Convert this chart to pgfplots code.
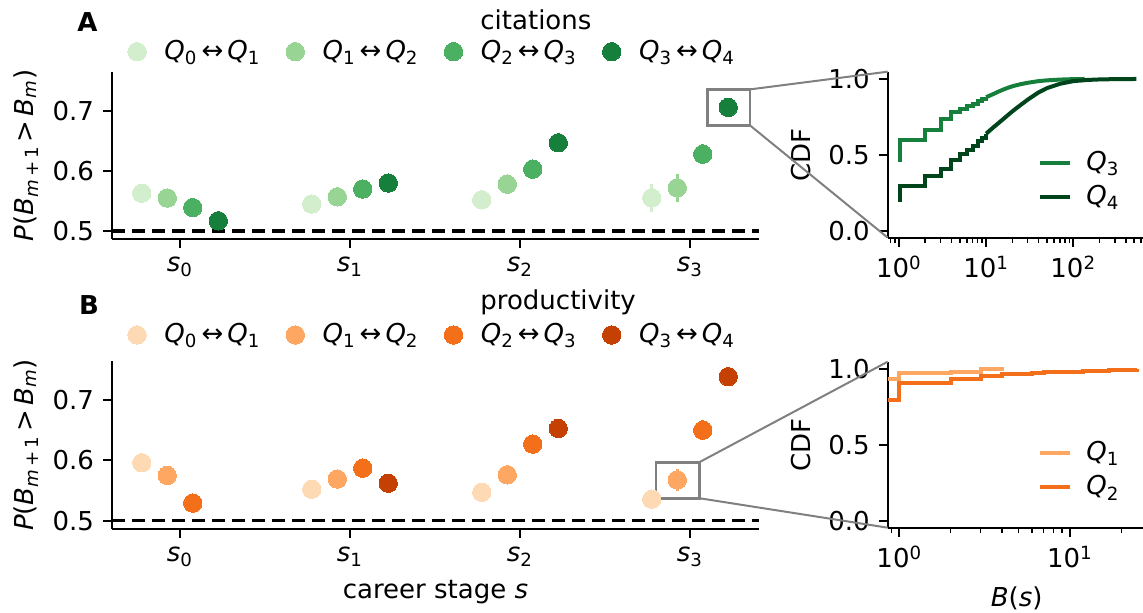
\documentclass[border=0pt]{standalone}
\usepackage{fontspec}
\setmainfont{DejaVu Sans}
\usepackage{amsmath}
\usepackage{pgfplots}
\usepackage{pgfplotstable}
\pgfplotsset{compat=1.18}

\definecolor{gA}{HTML}{D3EECD}
\definecolor{gB}{HTML}{98D594}
\definecolor{gC}{HTML}{4BB062}
\definecolor{gD}{HTML}{157F3B}
\definecolor{gE}{HTML}{00441B}
\definecolor{oA}{HTML}{FDD9B4}
\definecolor{oB}{HTML}{FDA762}
\definecolor{oC}{HTML}{F36F1A}
\definecolor{oD}{HTML}{C44103}
\definecolor{zoomgray}{HTML}{808080}

\newcommand{\mv}[1]{\textit{#1}}
\newcommand{\pair}[2]{\hspace*{5.2pt}\makebox[56.9pt][l]{$\mv{Q}_{\text{#1}}\,\text{↔}\,\mv{Q}_{\text{#2}}$}}

% citations: x y err
\pgfplotstableread{
x y e
-0.225 0.563 0.004
0.775 0.545 0.004
1.775 0.552 0.005
2.775 0.5555 0.023
}\cA
\pgfplotstableread{
x y e
-0.075 0.555 0.004
0.925 0.557 0.004
1.925 0.578 0.005
2.925 0.572 0.023
}\cB
\pgfplotstableread{
x y e
0.075 0.539 0.004
1.075 0.570 0.004
2.075 0.603 0.005
3.075 0.628 0.017
}\cC
\pgfplotstableread{
x y e
0.225 0.517 0.004
1.225 0.580 0.004
2.225 0.647 0.005
3.225 0.706 0.005
}\cD

% productivity
\pgfplotstableread{
x y e
-0.225 0.596 0.004
0.775 0.552 0.004
1.775 0.547 0.005
2.775 0.5355 0.006
}\pA
\pgfplotstableread{
x y e
-0.075 0.575 0.004
0.925 0.569 0.004
1.925 0.576 0.005
2.925 0.5675 0.018
}\pB
\pgfplotstableread{
x y e
0.075 0.529 0.004
1.075 0.587 0.004
2.075 0.627 0.005
3.075 0.650 0.017
}\pC
\pgfplotstableread{
x y e
1.225 0.562 0.004
2.225 0.653 0.005
3.225 0.739 0.005
}\pD

% CDF insets, step part and smooth part
\pgfplotstableread{
x y
0.97 0.47
1.04 0.60
2 0.665
3 0.735
4 0.78
5 0.80
6 0.82
7 0.835
8 0.852
9 0.867
10 0.88
}\qThreeS
\pgfplotstableread{
x y
10 0.88
12 0.90
14 0.918
16 0.932
18 0.943
20 0.952
25 0.966
30 0.975
40 0.986
50 0.991
70 0.996
100 0.999
135 1.0
}\qThreeL
\pgfplotstableread{
x y
0.97 0.204
1.04 0.296
2 0.36
3 0.41
4 0.467
5 0.505
6 0.533
7 0.562
8 0.59
9 0.615
10 0.64
}\qFourS
\pgfplotstableread{
x y
10 0.64
12 0.68
14 0.712
16 0.74
18 0.765
20 0.787
25 0.83
30 0.864
40 0.912
50 0.94
70 0.968
100 0.986
150 0.994
200 0.997
300 0.999
530 1.0
}\qFourL
\pgfplotstableread{
x y
0.855 0.932
1 0.972
2 0.982
3 0.997
4.1 0.997
}\qOne
\pgfplotstableread{
x y
0.855 0.796
1 0.906
2 0.932
3 0.954
4 0.965
5 0.970
6 0.974
7 0.977
8 0.979
9 0.981
10 0.983
12 0.986
14 0.988
17 0.991
20 0.994
24.6 0.998
}\qTwo

\tikzset{
  zbox/.style={zoomgray, line width=1.3pt},
  conn/.style={zoomgray, line width=1pt},
}

\pgfplotsset{
  base/.style={
    scale only axis,
    axis x line=bottom, axis y line=left,
    axis line style={-, line width=1pt},
    tick align=outside,
    major tick length=4.5pt, minor tick length=2.6pt,
    every tick/.style={black, line width=1pt},
    every minor tick/.style={black, line width=0.75pt},
    clip=false,
  },
  leftax/.style={
    base, width=323.5pt,
    xmin=-0.4, xmax=3.406, ymin=0.4867, ymax=0.765,
    xtick={0,1,2,3},
    xticklabels={$\mv{s}_{\text{0}}$,$\mv{s}_{\text{1}}$,$\mv{s}_{\text{2}}$,$\mv{s}_{\text{3}}$},
    ytick={0.5,0.6,0.7}, yticklabels={0.5,0.6,0.7},
    ylabel={$\mv{P}\text{(}\mv{B}_{\mv{m}\,\text{+}\,\text{1}}\,\text{>}\,\mv{B}_{\mv{m}}\text{)}$},
    ylabel style={at={(axis description cs:-0.133,0.5)}, anchor=center},
    legend columns=4,
    legend style={draw=none, fill=none, inner sep=0pt, anchor=west,
      column sep=0pt, nodes={inner sep=0pt}, cells={anchor=west}},
    legend image code/.code={\path[draw=none, fill=none] (0pt,0pt) -- (17pt,0pt);
      \draw[##1, only marks] plot coordinates {(8.5pt,0pt)};},
  },
  insax/.style={
    base, width=127.65pt, height=83pt,
    ymin=-0.044, ymax=1.048,
    ytick={0,0.5,1}, yticklabels={0.0,0.5,1.0},
    ylabel={CDF},
    ylabel style={at={(axis description cs:-0.3396,0.5)}, anchor=center},
    legend style={draw=none, fill=none, inner sep=0pt, anchor=west,
      at={(axis description cs:0.589,0.3476)}, row sep=1.5pt,
      cells={anchor=west}},
    legend image code/.code={\draw[##1] (0pt,0pt) -- (15pt,0pt);},
  },
  dot/.style={only marks, mark=*, mark size=4.6pt, color=#1,
    mark options={fill=#1, draw=#1, line width=0pt},
    error bars/.cd, y dir=both, y explicit, error mark=none,
    error bar style={#1, line width=1.6pt}},
  cdf/.style={#1, line width=2pt, const plot, no marks},
  cdfl/.style={#1, line width=2pt, no marks, forget plot},
  half/.style={black, line width=1.75pt, dash pattern=on 6.3pt off 3.7pt, forget plot},
}

\begin{document}
\fontsize{13}{15.6}\selectfont
\begin{tikzpicture}
\path[use as bounding box] (0,0) rectangle (571.5pt,306.5pt);

% ---- A: citations
\begin{axis}[leftax, height=83.5pt, at={(56pt,187pt)}, anchor=south west,
  legend style={at={(axis description cs:0.0119,1.1216)}}]
  \addplot[half] coordinates {(-0.4,0.5) (3.406,0.5)};
  \addplot[dot=gA] table[x=x, y=y, y error=e] {\cA};
  \addlegendentry{\pair{0}{1}}
  \addplot[dot=gB] table[x=x, y=y, y error=e] {\cB};
  \addlegendentry{\pair{1}{2}}
  \addplot[dot=gC] table[x=x, y=y, y error=e] {\cC};
  \addlegendentry{\pair{2}{3}}
  \addplot[dot=gD] table[x=x, y=y, y error=e] {\cD};
  \addlegendentry{\pair{3}{4}}
  \draw[zbox] (axis cs:3.102,0.676) rectangle (axis cs:3.353,0.736);
  \coordinate (bAt) at (axis cs:3.353,0.736);
  \coordinate (bAb) at (axis cs:3.353,0.676);
\end{axis}

% ---- A inset
\begin{semilogxaxis}[insax, at={(443.85pt,187.65pt)}, anchor=south west,
  xmin=0.743, xmax=631,
  xtick={1,10,100}, xticklabels={10\textsuperscript{0},10\textsuperscript{1},10\textsuperscript{2}},
  minor xtick={0.8,0.9,2,3,4,5,6,7,8,9,20,30,40,50,60,70,80,90,200,300,400,500,600}]
  \addplot[cdf=gD] table {\qThreeS};
  \addlegendentry{\hspace*{5pt}$\mv{Q}_{\text{3}}$}
  \addplot[cdfl=gD] table {\qThreeL};
  \addplot[cdf=gE] table {\qFourS};
  \addlegendentry{\hspace*{5pt}$\mv{Q}_{\text{4}}$}
  \addplot[cdfl=gE] table {\qFourL};
  \coordinate (iAt) at (rel axis cs:0,1);
  \coordinate (iAb) at (rel axis cs:0,0);
\end{semilogxaxis}

% ---- B: productivity
\begin{axis}[leftax, height=84pt, at={(56pt,42pt)}, anchor=south west,
  ymin=0.486,
  xlabel={career stage $\mv{s}$},
  xlabel style={at={(axis description cs:0.5,-0.373)}, anchor=center},
  legend style={at={(axis description cs:0.0119,1.155)}}]
  \addplot[half] coordinates {(-0.4,0.5) (3.406,0.5)};
  \addplot[dot=oA] table[x=x, y=y, y error=e] {\pA};
  \addlegendentry{\pair{0}{1}}
  \addplot[dot=oB] table[x=x, y=y, y error=e] {\pB};
  \addlegendentry{\pair{1}{2}}
  \addplot[dot=oC] table[x=x, y=y, y error=e] {\pC};
  \addlegendentry{\pair{2}{3}}
  \addplot[dot=oD] table[x=x, y=y, y error=e] {\pD};
  \addlegendentry{\pair{3}{4}}
  \draw[zbox] (axis cs:2.8,0.5371) rectangle (axis cs:3.055,0.5969);
  \coordinate (bBt) at (axis cs:3.055,0.5969);
  \coordinate (bBb) at (axis cs:3.055,0.5371);
\end{axis}

% ---- B inset
\begin{semilogxaxis}[insax, at={(443.85pt,42.65pt)}, anchor=south west,
  xmin=0.855, xmax=26.8,
  xtick={1,10}, xticklabels={10\textsuperscript{0},10\textsuperscript{1}},
  minor xtick={0.9,2,3,4,5,6,7,8,9,20},
  xlabel={$\mv{B}\text{(}\mv{s}\text{)}$},
  xlabel style={at={(axis description cs:0.505,-0.4235)}, anchor=center}]
  \addplot[cdf=oB] table {\qOne};
  \addlegendentry{\hspace*{5pt}$\mv{Q}_{\text{1}}$}
  \addplot[cdf=oC] table {\qTwo};
  \addlegendentry{\hspace*{5pt}$\mv{Q}_{\text{2}}$}
  \coordinate (iBt) at (rel axis cs:0,1);
  \coordinate (iBb) at (rel axis cs:0,0);
\end{semilogxaxis}

% zoom connectors
\draw[conn] (bAt) -- (iAt);
\draw[conn] (bAb) -- (iAb);
\draw[conn] (bBt) -- (iBt);
\draw[conn] (bBb) -- (iBb);

% panel letters and titles
\node[anchor=base, font=\bfseries] at (43.75pt,290.6pt) {A};
\node[anchor=base west, inner sep=0pt] at (240pt,291.5pt) {citations};
\node[anchor=base, font=\bfseries] at (44.5pt,149pt) {B};
\node[anchor=base west, inner sep=0pt] at (240pt,151.5pt) {productivity};
\end{tikzpicture}
\end{document}
